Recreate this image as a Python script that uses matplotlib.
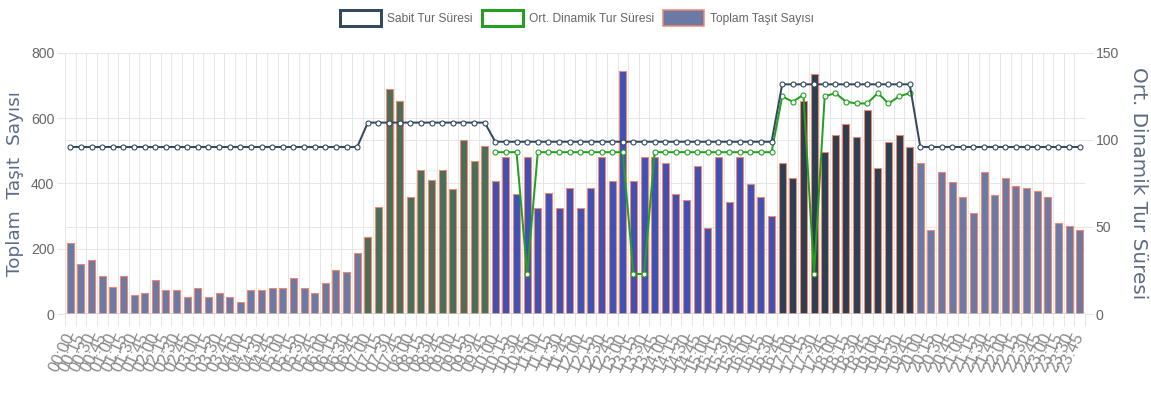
import numpy as np
import matplotlib
matplotlib.use("Agg")
import matplotlib.pyplot as plt
from matplotlib.patches import Patch
from matplotlib import font_manager

# ---- data -------------------------------------------------------------
times = [f"{h:02d}:{m:02d}" for h in range(24) for m in (0, 15, 30, 45)]

# total vehicle count per 15-minute slot
toplam_tasit = [
    217, 153, 164, 117, 84, 117, 58, 65, 104, 74, 74, 53, 79, 51, 65, 53,
    38, 74, 74, 79, 79, 109, 79, 65, 96, 135, 130, 186, 237, 329, 690, 654,
    358, 442, 411, 442, 384, 532, 468, 514, 409, 481, 368, 481, 326, 372, 326, 386,
    326, 386, 481, 409, 744, 409, 481, 481, 462, 368, 348, 454, 263, 481, 342, 481,
    399, 358, 299, 462, 416, 652, 735, 498, 549, 582, 542, 626, 447, 526, 549, 512,
    462, 258, 435, 404, 360, 309, 435, 365, 418, 393, 386, 378, 360, 278, 270, 256,
]

# fixed cycle time (s) per slot
sabit_tur = [
    96, 96, 96, 96, 96, 96, 96, 96, 96, 96, 96, 96, 96, 96, 96, 96,
    96, 96, 96, 96, 96, 96, 96, 96, 96, 96, 96, 96, 110, 110, 110, 110,
    110, 110, 110, 110, 110, 110, 110, 110, 99, 99, 99, 99, 99, 99, 99, 99,
    99, 99, 99, 99, 99, 99, 99, 99, 99, 99, 99, 99, 99, 99, 99, 99,
    99, 99, 99, 132, 132, 132, 132, 132, 132, 132, 132, 132, 132, 132, 132, 132,
    96, 96, 96, 96, 96, 96, 96, 96, 96, 96, 96, 96, 96, 96, 96, 96,
]

# average dynamic cycle time (s); empty where no dynamic plan ran
nan = np.nan
ort_dinamik = [
    nan, nan, nan, nan, nan, nan, nan, nan, nan, nan, nan, nan, nan, nan, nan, nan,
    nan, nan, nan, nan, nan, nan, nan, nan, nan, nan, nan, nan, nan, nan, nan, nan,
    nan, nan, nan, nan, nan, nan, nan, nan, 93, 93, 93, 23, 93, 93, 93, 93,
    93, 93, 93, 93, 93, 23, 23, 93, 93, 93, 93, 93, 93, 93, 93, 93,
    93, 93, 93, 125, 122, 126, 23, 125, 127, 122, 121, 121, 127, 121, 125, 127,
    nan, nan, nan, nan, nan, nan, nan, nan, nan, nan, nan, nan, nan, nan, nan, nan,
]

# bar colour for each time-of-day plan: (first slot, last slot, colour)
plan_colors = [
    ("00:00", "06:45", "#6A7AA5"),
    ("07:00", "09:45", "#4A6E57"),
    ("10:00", "16:30", "#3F51B5"),
    ("16:45", "19:45", "#2C3E50"),
    ("20:00", "23:45", "#6A7AA5"),
]

# ---- style ------------------------------------------------------------
available = {f.name for f in font_manager.fontManager.ttflist}
narrow = [f for f in ["Liberation Sans Narrow", "Liberation Sans", "DejaVu Sans"] if f in available]
plt.rcParams["font.family"] = narrow
PX = 0.72  # points per pixel at 100 dpi

SABIT_C = "#34495E"
DINAMIK_C = "#22A022"
EDGE_C = "#F2876F"
GRID_C = "#E6E6E6"
TICK_C = "#666666"

bar_colors = []
for t in times:
    for start, end, c in plan_colors:
        if start <= t <= end:
            bar_colors.append(c)
            break

W, H = 1151, 394
fig = plt.figure(figsize=(W / 100, H / 100), dpi=100)
ax = fig.add_axes([65 / W, 1 - 314 / H, 1020 / W, 261 / H])
ax2 = ax.twinx()

x = np.arange(len(times))
ax.bar(x, toplam_tasit, width=0.66, color=bar_colors, edgecolor=EDGE_C,
       linewidth=1.1 * PX, zorder=3)

ax.set_xlim(-0.5, len(times) - 0.5)
ax.set_ylim(0, 800)
ax.set_yticks([0, 200, 400, 600, 800])
ax2.set_ylim(0, 150)
ax2.set_yticks([0, 50, 100, 150])

# horizontal grid for both scales, kept behind the bars
ax.grid(axis="y", color=GRID_C, linewidth=1 * PX, zorder=0)
for v in ax2.get_yticks():
    yv = ax.transData.inverted().transform(
        ax2.transData.transform((0, v)))[1]
    ax.axhline(yv, color=GRID_C, linewidth=1 * PX, zorder=0)

# vertical grid on slot boundaries
ax.set_xticks(np.arange(-0.5, len(times), 1), minor=True)
ax.grid(axis="x", which="minor", color=GRID_C, linewidth=1 * PX, zorder=0)
ax.set_xticks(x)
ax.set_xticklabels(times, rotation=65, ha="right", va="center",
                   rotation_mode="anchor", fontsize=16.5 * PX, color="#8A8A8A")
ax.tick_params(axis="x", which="major", length=0, pad=14)
ax.tick_params(axis="x", which="minor", length=12 * PX, color=GRID_C, width=1 * PX)
ax.tick_params(axis="y", length=8 * PX, color=GRID_C, width=1 * PX,
               labelsize=14 * PX, labelcolor=TICK_C, pad=2)
ax2.tick_params(axis="y", length=8 * PX, color=GRID_C, width=1 * PX,
                labelsize=14 * PX, labelcolor=TICK_C, pad=2)

for a in (ax, ax2):
    for s in a.spines.values():
        s.set_visible(False)
ax.axhline(0, color="#C8C8C8", linewidth=1.5 * PX, zorder=4)

# cycle-time lines on the right-hand scale
line_kw = dict(linewidth=2.0 * PX, marker="o", markersize=5.0 * PX,
               markerfacecolor="white", markeredgewidth=1.1 * PX)
ax2.plot(x, ort_dinamik, color=DINAMIK_C, markeredgecolor=DINAMIK_C, zorder=5, **line_kw)
ax2.plot(x, sabit_tur, color=SABIT_C, markeredgecolor=SABIT_C, zorder=6, **line_kw)

ax.set_ylabel("Toplam  Taşıt  Sayısı", family=["DejaVu Sans"], fontsize=18.5 * PX,
              color="#5C6B88")
ax.yaxis.set_label_coords(-(65 - 24) / 1020, 0.5)
ax2.set_ylabel("Ort. Dinamik Tur Süresi", family=["DejaVu Sans"], fontsize=20 * PX,
               color="#5C6B80", rotation=-90, va="center")
ax2.yaxis.set_label_coords((1139 - 65) / 1020, 0.5)

handles = [
    Patch(facecolor="white", edgecolor=SABIT_C, linewidth=3 * PX, label="Sabit Tur Süresi"),
    Patch(facecolor="white", edgecolor=DINAMIK_C, linewidth=3 * PX, label="Ort. Dinamik Tur Süresi"),
    Patch(facecolor="#6A7AA5", edgecolor=EDGE_C, linewidth=1.5 * PX, label="Toplam Taşıt Sayısı"),
]
leg = fig.legend(handles=handles, loc="center", bbox_to_anchor=(577 / W, 1 - 18 / H),
                 ncol=3, frameon=False, fontsize=12 * PX, handlelength=3.4,
                 handleheight=1.6, handletextpad=0.5, columnspacing=0.8)
for t in leg.get_texts():
    t.set_color(TICK_C)

fig.savefig("out.png", dpi=100)
